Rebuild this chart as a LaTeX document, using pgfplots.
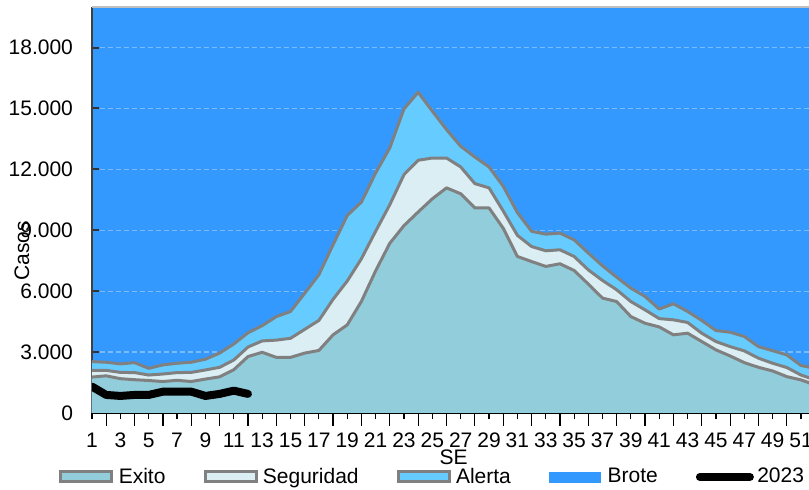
\documentclass[border=0pt]{standalone}
\usepackage{fontspec}
\setmainfont{Liberation Sans}
\usepackage{pgfplots}
\usepackage{pgfplotstable}
\pgfplotsset{compat=1.18}
\definecolor{exito}{HTML}{92CDDC}
\definecolor{seguridad}{HTML}{DAEEF3}
\definecolor{alerta}{HTML}{66CCFF}
\definecolor{brote}{HTML}{3399FF}
\definecolor{borde}{HTML}{808080}
\definecolor{grilla}{HTML}{7DB9F5}

\pgfplotstableread{
se exito seguridad alerta
1 1770 2100 2530
2 1830 2100 2500
3 1690 2000 2420
4 1640 1990 2480
5 1600 1870 2200
6 1550 1920 2370
7 1610 1990 2450
8 1550 2000 2500
9 1670 2120 2650
10 1780 2250 2950
11 2130 2610 3400
12 2780 3250 3950
13 2990 3550 4300
14 2740 3590 4750
15 2740 3680 5000
16 2950 4120 5900
17 3080 4560 6810
18 3850 5600 8290
19 4340 6500 9730
20 5500 7600 10390
21 7000 8950 11820
22 8360 10260 13060
23 9230 11740 14980
24 9900 12450 15800
25 10550 12560 14870
26 11090 12560 13960
27 10800 12120 13140
28 10100 11300 12610
29 10100 11090 12120
30 9100 9950 11170
31 7710 8750 9870
32 7460 8200 8950
33 7220 7990 8810
34 7350 8040 8860
35 7020 7710 8530
36 6350 7050 7880
37 5660 6530 7250
38 5490 6070 6690
39 4750 5490 6150
40 4420 5080 5740
41 4240 4650 5120
42 3850 4590 5380
43 3930 4460 5000
44 3520 3930 4560
45 3110 3520 4060
46 2810 3270 3980
47 2480 3060 3770
48 2250 2700 3270
49 2070 2450 3070
50 1790 2240 2860
51 1630 1870 2340
52 1380 1630 2200
}\datos

\pgfplotstableread{
se casos
1 1300
2 890
3 840
4 890
5 890
6 1050
7 1050
8 1050
9 840
10 940
11 1100
12 940
}\actual

\begin{document}
\begin{tikzpicture}[font=\fontsize{10.5}{12}\selectfont]
\begin{axis}[
  at={(46pt,38.5pt)}, anchor=south west,
  scale only axis, width=361.6pt, height=203pt,
  xmin=1, xmax=52, ymin=0, ymax=20000,
  axis background/.style={fill=brote},
  axis x line*=bottom, axis y line*=left,
  x axis line style={black, line width=1pt},
  y axis line style={black!75, line width=1pt},
  xtick={1,3,...,51}, minor xtick={2,4,...,52},
  ytick={0,3000,...,18000},
  scaled y ticks=false,
  tick align=inside,
  major tick length=6.5pt, minor tick length=6.5pt,
  xtick style={black, line width=0.6pt, yshift=-3.25pt},
  minor x tick style={black, line width=0.6pt, yshift=-3.25pt},
  ytick style={black!80, line width=1pt, dash pattern=on 3.5pt off 20pt},
  ymajorgrids,
  major grid style={grilla, line width=0.6pt, dash pattern=on 2.5pt off 1.5pt},
  /pgf/number format/assume math mode=true,
  yticklabel style={/pgf/number format/.cd, fixed, 1000 sep={.}},
  xticklabel shift=6.5pt,
  yticklabel shift=6pt,
  xlabel={SE},
  xlabel style={at={(axis description cs:0.5,-0.108)}, anchor=center},
  ylabel={Casos},
  ylabel style={at={(axis description cs:-0.0968,0.40)}, anchor=center},
  legend columns=5,
  legend cell align=left,
  legend style={draw=none, fill=none, inner sep=0pt,
    at={(rel axis cs:-0.0456,-0.1576)}, anchor=west,
    nodes={inner sep=1.5pt},
    /tikz/every even column/.append style={column sep=17.5pt}},
]
\addplot[fill=alerta, draw=none, forget plot] table[x=se,y=alerta]{\datos} \closedcycle;
\addplot[fill=seguridad, draw=none, forget plot] table[x=se,y=seguridad]{\datos} \closedcycle;
\addplot[fill=exito, draw=none, forget plot] table[x=se,y=exito]{\datos} \closedcycle;
\addplot[borde, line width=1.5pt, line join=round, forget plot] table[x=se,y=alerta]{\datos};
\addplot[borde, line width=1.5pt, line join=round, forget plot] table[x=se,y=seguridad]{\datos};
\addplot[borde, line width=1.5pt, line join=round, forget plot] table[x=se,y=exito]{\datos};
\addplot[black, line width=4pt, line join=round, line cap=round, forget plot] table[x=se,y=casos]{\actual};
\draw[black!25, line width=0.75pt] (rel axis cs:0,1) -- (rel axis cs:1,1);

\addlegendimage{legend image code/.code={\draw[fill=exito, draw=borde, line width=1.5pt] (0.75pt,-2.5pt) rectangle (26.25pt,2.5pt); \path (28pt,0pt);}}
\addlegendentry{Exito}
\addlegendimage{legend image code/.code={\draw[fill=seguridad, draw=borde, line width=1.5pt] (0.75pt,-2.5pt) rectangle (26.25pt,2.5pt); \path (28pt,0pt);}}
\addlegendentry{Seguridad}
\addlegendimage{legend image code/.code={\draw[fill=alerta, draw=borde, line width=1.5pt] (0.75pt,-2.5pt) rectangle (26.25pt,2.5pt); \path (28pt,0pt);}}
\addlegendentry{Alerta}
\addlegendimage{legend image code/.code={\fill[brote] (0.5pt,-2.5pt) rectangle (26pt,2.5pt); \path (28pt,0pt);}}
\addlegendentry{Brote}
\addlegendimage{legend image code/.code={\draw[black, line width=4pt, line cap=round] (2pt,0pt) -- (27pt,0pt); \path (29pt,0pt);}}
\addlegendentry{2023}
\end{axis}
\pgfresetboundingbox
\path[use as bounding box] (0,0) rectangle (404.5pt,245pt);
\end{tikzpicture}
\end{document}
